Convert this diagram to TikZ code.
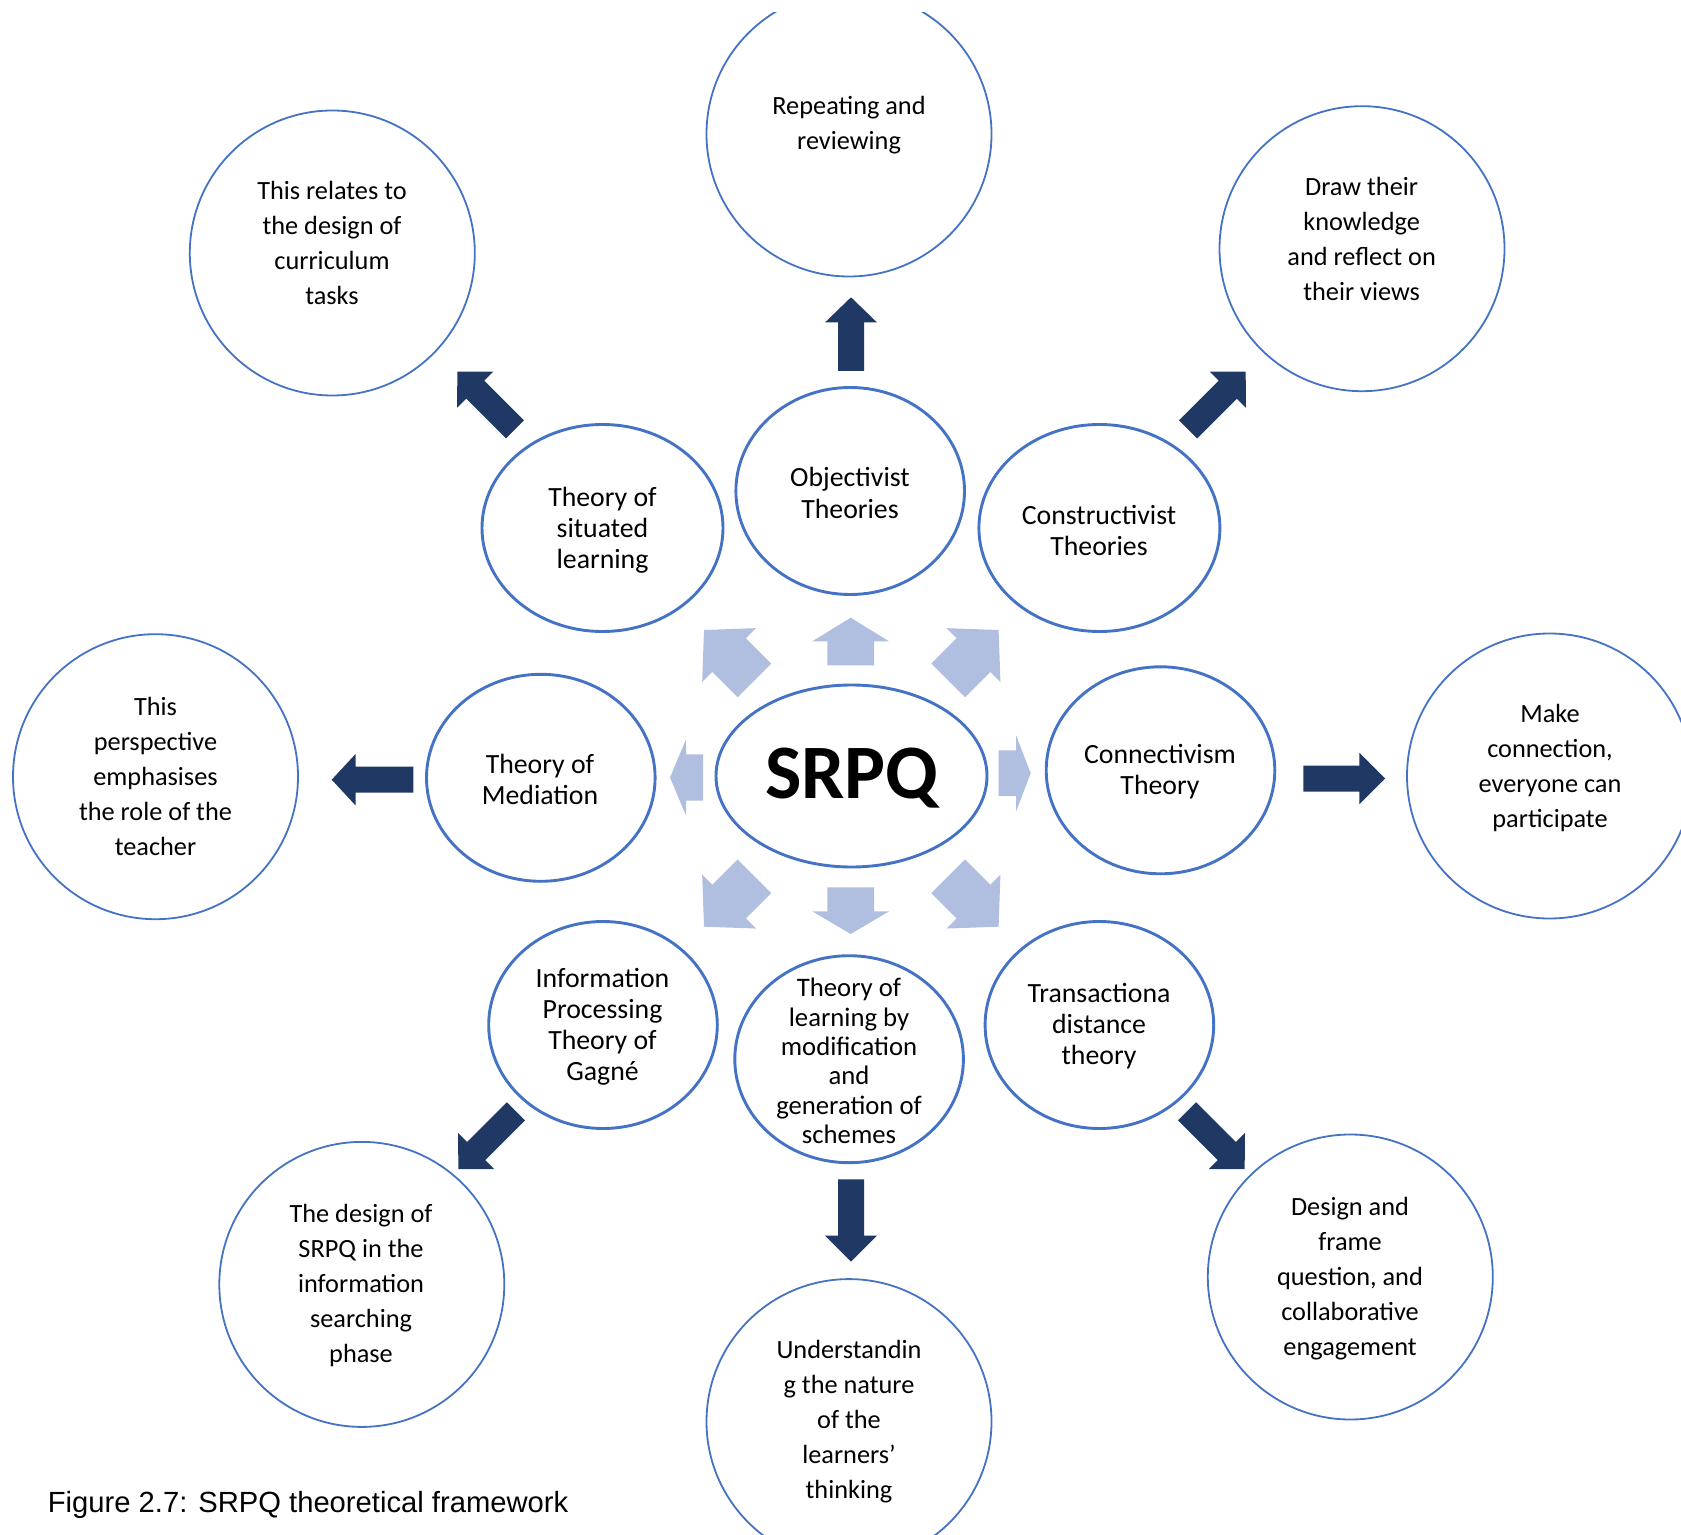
\documentclass[tikz,border=0pt]{standalone}
\usepackage{fontspec}
\setmainfont{Carlito}
\newfontfamily\capfont{Liberation Sans}
\usetikzlibrary{shapes.geometric}
\definecolor{ringblue}{RGB}{68,114,196}
\definecolor{darkarrow}{RGB}{31,56,100}
\definecolor{lightarrow}{RGB}{176,190,224}
% #1 style, #2 tip, #3 angle, #4 length, #5 head length, #6 half head width, #7 half shaft width
\newcommand{\blockarr}[7]{\fill[#1,shift={#2},rotate=#3] (0,0) -- (-#5,#6) -- (-#5,#7) -- (-#4,#7) -- (-#4,-#7) -- (-#5,-#7) -- (-#5,-#6) -- cycle;}
\begin{document}
\begin{tikzpicture}[x=0.5pt,y=-0.5pt,
  outer/.style={circle, draw=ringblue, line width=0.9pt, inner sep=0pt, minimum size=142.5pt},
  inner/.style={ellipse, draw=ringblue, line width=1.45pt, inner sep=0pt, minimum width=114.3pt, minimum height=103.5pt},
  wide/.style={inner, minimum width=120.5pt},
  outtext/.style={align=center, inner sep=0pt, yshift=-1.2pt, font=\fontsize{13.15pt}{17.5pt}\selectfont},
  intext/.style={align=center, inner sep=0pt, yshift=-1.2pt, font=\fontsize{13.9pt}{15.6pt}\selectfont},
  smalltext/.style={align=center, inner sep=0pt, yshift=-0.6pt, font=\fontsize{13.35pt}{14.7pt}\selectfont},
  dark/.style={fill=darkarrow},
  light/.style={fill=lightarrow}]
\useasboundingbox (0,0) rectangle (1681,1535);
\begin{scope}
\clip (0,13) rectangle (1681,1535);
% outer circles
\node[outer] (rep) at (849,134) {};
\node[outer] (draw) at (1362,248.7) {};
\node[outer] (make) at (1549.5,776) {};
\node[outer] (desf) at (1350.3,1277) {};
\node[outer] (under) at (849,1421.6) {};
\node[outer] (dsrpq) at (361.8,1284.4) {};
\node[outer] (persp) at (155.5,776.7) {};
\node[outer] (relate) at (332.3,253) {};
\node[outtext] (rep-t) at (849,123) {Repeating and\\reviewing};
\node[outtext] (draw-t) at (1361.6,237) {Draw their\\knowledge\\and reflect on\\their views};
\node[outtext] (make-t) at (1550,765.5) {Make\\connection,\\everyone can\\participate};
\node[outtext] (desf-t) at (1350,1275.8) {Design and\\frame\\question, and\\collaborative\\engagement};
\node[outtext] (under-t) at (849,1419.5) {Understandin\\g the nature\\of the\\learners’\\thinking};
\node[outtext] (dsrpq-t) at (361,1282.8) {The design of\\SRPQ in the\\information\\searching\\phase};
\node[outtext] (persp-t) at (155.5,774) {This\\perspective\\emphasises\\the role of the\\teacher};
\node[outtext] (relate-t) at (332,240.7) {This relates to\\the design of\\curriculum\\tasks};
% inner ellipses
\node[inner] (obj) at (850.2,491) {};
\node[wide] (cons) at (1099.4,528) {};
\node[inner] (conn) at (1160.5,770.3) {};
\node[inner] (trans) at (1099.4,1025) {};
\node[inner] (learn) at (849.1,1059.2) {};
\node[inner] (info) at (603,1025) {};
\node[inner] (med) at (540.8,777.8) {};
\node[wide] (sit) at (602.5,528) {};
\node[inner, minimum width=135.5pt, minimum height=91pt] (srpq) at (851.5,776) {};
\node[intext] (obj-t) at (850,490.5) {Objectivist\\Theories};
\node[intext] (cons-t) at (1099,528) {Constructivist\\Theories};
\node[intext] (conn-t) at (1160,769.2) {Connectivism\\Theory};
\node[intext] (trans-t) at (1099,1023.9) {Transactiona\\distance\\theory};
\node[smalltext] (learn-t) at (849,1059.8) {Theory of\\learning by\\modification\\and\\generation of\\schemes};
\node[intext] (info-t) at (602.5,1024.4) {Information\\Processing\\Theory of\\Gagné};
\node[intext] (med-t) at (540,776.7) {Theory of\\Mediation};
\node[intext] (sit-t) at (602.5,527.8) {Theory of\\situated\\learning};
\node[anchor=base, inner sep=0pt, font=\fontsize{38.5pt}{40pt}\selectfont\bfseries] (srpq-t) at (851.8,798.3) {SRPQ};
% light arrows around the centre
\blockarr{light}{(850.7,617.7)}{90}{47.6}{23.6}{38.3}{23.3}
\blockarr{light}{(850.7,934)}{270}{46.7}{22.7}{38.5}{23.3}
\blockarr{light}{(670,777.5)}{180}{33}{16}{38.2}{23.15}
\blockarr{light}{(1030.7,773.3)}{0}{32}{14.7}{38.3}{22.85}
\blockarr{light}{(704,630)}{135}{71.3}{35.5}{38.1}{23.8}
\blockarr{light}{(998.6,630)}{45}{71.3}{35.5}{38.1}{23.8}
\blockarr{light}{(704,926.7)}{225}{71.3}{35.5}{38.1}{23.8}
\blockarr{light}{(998.6,926.7)}{315}{71.3}{35.5}{38.1}{23.8}
% dark arrows towards the outer circles
\blockarr{dark}{(851,297.3)}{90}{73.7}{25}{25.85}{13}
\blockarr{dark}{(851,1261.7)}{270}{82.4}{26}{25.85}{13}
\blockarr{dark}{(331.7,779.7)}{180}{81.6}{24}{25.85}{13}
\blockarr{dark}{(1385,778.5)}{0}{81.7}{25.7}{25.85}{13}
\blockarr{dark}{(457.3,371.7)}{135}{81.6}{25.3}{25.5}{12.8}
\blockarr{dark}{(1245.7,371.7)}{45}{81.6}{25.3}{25.5}{12.8}
\blockarr{dark}{(458.3,1169)}{225}{81.6}{25.3}{25.5}{12.8}
\blockarr{dark}{(1244.7,1169)}{315}{81.6}{25.3}{25.5}{12.8}
\end{scope}
\node[anchor=base west, inner sep=0pt, font=\capfont\fontsize{14.6pt}{17pt}\selectfont] (caption) at (47.5,1512) {Figure 2.7: SRPQ theoretical framework};
\end{tikzpicture}
\end{document}
